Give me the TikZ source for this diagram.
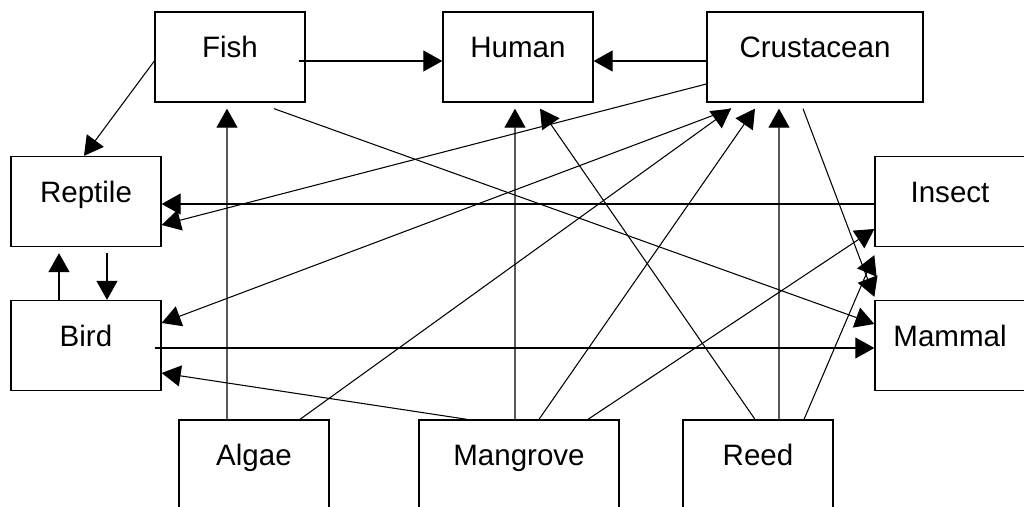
\documentclass[tikz,border=0pt]{standalone}
\usepackage{fontspec}
\setmainfont{Liberation Sans}
\usetikzlibrary{arrows.meta}

\begin{document}
\begin{tikzpicture}[
    sp/.style={rectangle, draw=black, line width=0.75pt, inner sep=0pt,
               minimum width=30mm, text height=9.2mm, text depth=8.8mm,
               font=\fontsize{16.8}{20}\selectfont},
    fd/.style={-{Triangle[length=3.8mm, width=4.2mm]}, line width=0.6pt}
]
\useasboundingbox (0mm,0mm) rectangle (204.8mm,-101.4mm);
\clip (0mm,0mm) rectangle (204.8mm,-101.4mm);

\node[sp] (fish) at (46mm,-11.4mm) {Fish};
\node[sp] (human) at (103.6mm,-11.4mm) {Human};
\node[sp, minimum width=43.2mm] (crustacean) at (163mm,-11.4mm) {Crustacean};
\node[sp] (reptile) at (17.2mm,-40.3mm) {Reptile};
\node[sp] (insect) at (190mm,-40.3mm) {Insect};
\node[sp] (bird) at (17.2mm,-69.1mm) {Bird};
\node[sp] (mammal) at (190mm,-69.1mm) {Mammal};
\node[sp] (algae) at (50.8mm,-93mm) {Algae};
\node[sp, minimum width=40mm] (mangrove) at (103.8mm,-93mm) {Mangrove};
\node[sp] (reed) at (151.6mm,-93mm) {Reed};

\draw[fd] ([xshift=-1.4mm, yshift=-0.8mm]fish.east) -- ([yshift=-0.8mm]human.west);
\draw[fd] ([yshift=-0.8mm]crustacean.west) -- ([yshift=-0.8mm]human.east);

\draw[fd] ([yshift=-0.8mm]fish.west) -- ([xshift=-0.4mm]reptile.north);
\draw[fd] ([xshift=8.8mm, yshift=-1.2mm]fish.south) -- ([yshift=4.3mm]mammal.west);

\draw[fd] ([yshift=-5.4mm]crustacean.west) -- ([yshift=-4.7mm]reptile.east);
\draw[fd] ([yshift=-0.5mm]insect.west) -- ([yshift=-0.5mm]reptile.east);

\draw[fd] ([xshift=4.2mm, yshift=-1.2mm]reptile.south) -- ([xshift=4.2mm]bird.north);
\draw[fd] ([xshift=-5.4mm]bird.north) -- ([xshift=-5.4mm, yshift=-1.2mm]reptile.south);

\draw[fd] ([xshift=-16.8mm, yshift=-1.2mm]crustacean.south) -- ([yshift=4.5mm]bird.east);
\draw[fd] ([xshift=9.2mm]algae.north) -- ([xshift=-16.8mm, yshift=-1.2mm]crustacean.south);
\draw[fd] ([xshift=-5.4mm]algae.north) -- ([xshift=-0.6mm, yshift=-1.2mm]fish.south);

\draw[fd] ([xshift=-10.4mm]mangrove.north) -- ([yshift=-5.5mm]bird.east);
\draw[fd] ([xshift=-0.8mm]mangrove.north) -- ([xshift=-0.6mm, yshift=-1.2mm]human.south);
\draw[fd] ([xshift=4mm]mangrove.north) -- ([xshift=-12mm, yshift=-1.2mm]crustacean.south);
\draw[fd] ([xshift=13.8mm]mangrove.north) -- ([yshift=-5.5mm]insect.west);

\draw[fd] ([xshift=-0.6mm]reed.north) -- ([xshift=4.4mm, yshift=-1.2mm]human.south);
\draw[fd] ([xshift=4.2mm]reed.north) -- ([xshift=-7.2mm, yshift=-1.2mm]crustacean.south);
\draw[fd] ([xshift=9.2mm]reed.north) -- ([yshift=-1.6mm]insect.south west);

\draw[fd] ([xshift=-2.4mm, yshift=-1.2mm]crustacean.south) -- ([yshift=0.6mm]mammal.north west);
\draw[fd] ([xshift=-1.4mm, yshift=-0.5mm]bird.east) -- ([yshift=-0.5mm]mammal.west);
\end{tikzpicture}
\end{document}
